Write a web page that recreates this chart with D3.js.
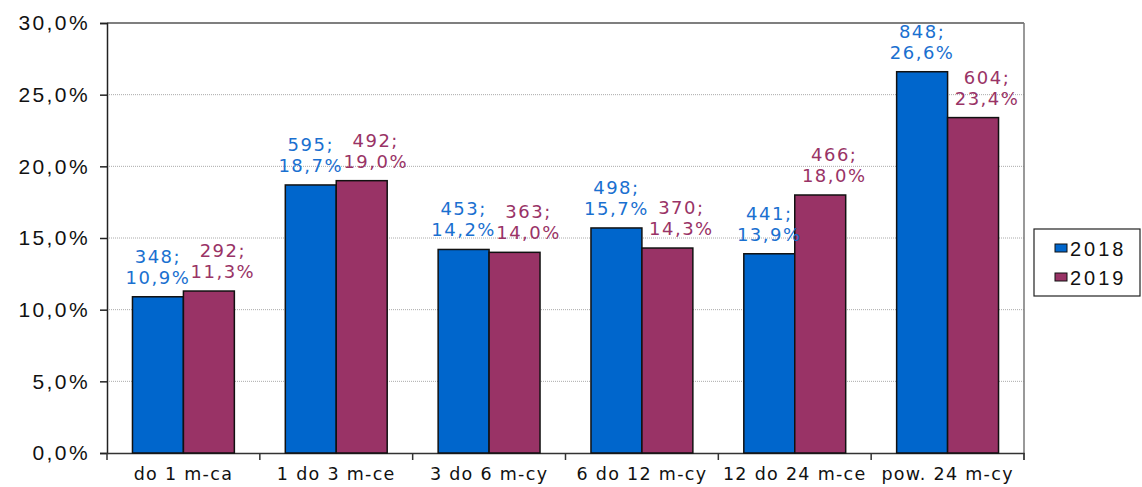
<!DOCTYPE html>
<html><head><meta charset="utf-8">
<script src="https://cdn.jsdelivr.net/npm/d3@7"></script>
<style>body{margin:0;background:#fff}</style>
</head><body>
<svg id="c" width="1142" height="487"></svg>
<script>
const categories = ["do 1 m-ca","1 do 3 m-ce","3 do 6 m-cy","6 do 12 m-cy","12 do 24 m-ce","pow. 24 m-cy"];
const series = ["2018","2019"];
const pct2018 = [10.9,18.7,14.2,15.7,13.9,26.6];
const pct2019 = [11.3,19.0,14.0,14.3,18.0,23.4];
const cnt2018 = [348,595,453,498,441,848];
const cnt2019 = [292,492,363,370,466,604];
const yTicks = [0,5,10,15,20,25,30];
const colors = ["#0066CC","#993366"];
const labelColors = ["#1a70d0","#993366"];

const svg = d3.select("#c");
const L=107,R=1024,T=23,B=453;
const x = d3.scaleBand().domain(categories).range([L,R]).paddingInner(0).paddingOuter(0);
const inner = d3.scaleBand().domain(series).range([0,x.bandwidth()]).paddingInner(0).paddingOuter(0.5);
const y = d3.scaleLinear().domain([0,30]).range([B,T]);
const fmt = v => d3.format(".1f")(v).replace(".",",");

// grid
svg.append("g").selectAll("line").data(yTicks.filter(t=>t>0&&t<30)).join("line")
  .attr("x1",L).attr("x2",R).attr("y1",d=>y(d)).attr("y2",d=>y(d))
  .attr("stroke","#aaa").attr("stroke-width",1).attr("stroke-dasharray","1,1");
// frame top/right
svg.append("line").attr("x1",L).attr("x2",R).attr("y1",T).attr("y2",T).attr("stroke","#555").attr("stroke-width",1.5);
svg.append("line").attr("x1",R).attr("x2",R).attr("y1",T).attr("y2",B+7).attr("stroke","#777").attr("stroke-width",1.5);

// y axis
const ya = svg.append("g").attr("transform",`translate(${L},0)`)
  .call(d3.axisLeft(y).tickValues(yTicks).tickSize(7).tickPadding(10).tickFormat(d=>fmt(d)+"%"));
ya.select(".domain").attr("stroke","#222").attr("stroke-width",1.5);
ya.selectAll(".tick line").attr("stroke","#222").attr("stroke-width",1.5);
ya.selectAll("text").attr("font-family","Liberation Sans, Arial, sans-serif").attr("font-size",21).attr("letter-spacing","2.4px").attr("fill","#111");

// x axis
const xa = svg.append("g").attr("transform",`translate(0,${B})`)
  .call(d3.axisBottom(x).tickSize(0).tickPadding(15));
xa.select(".domain").attr("stroke","#333").attr("stroke-width",1.5);
xa.selectAll("text").attr("font-family","DejaVu Sans, Verdana, sans-serif").attr("font-size",17.5).attr("letter-spacing","1.3px").attr("fill","#111");
const bounds = categories.map(c=>x(c)).concat([R]);
svg.append("g").selectAll("line").data(bounds).join("line")
  .attr("x1",d=>d).attr("x2",d=>d).attr("y1",B).attr("y2",B+7).attr("stroke","#333").attr("stroke-width",1.5);

// bars
const data = [];
categories.forEach((c,i)=>{
  data.push({c,s:"2018",v:pct2018[i],n:cnt2018[i],k:0});
  data.push({c,s:"2019",v:pct2019[i],n:cnt2019[i],k:1});
});
svg.append("g").selectAll("rect").data(data).join("rect")
  .attr("x",d=>x(d.c)+inner(d.s)).attr("width",inner.bandwidth())
  .attr("y",d=>y(d.v)).attr("height",d=>B-y(d.v))
  .attr("fill",d=>colors[d.k]).attr("stroke","#111").attr("stroke-width",1.5);

// labels
const lg = svg.append("g").attr("font-family","DejaVu Sans, Verdana, sans-serif").attr("font-size",18).attr("letter-spacing","1.5px").attr("text-anchor","middle");
data.forEach(d=>{
  const cx = x(d.c)+inner(d.s)+inner.bandwidth()/2 + (d.k===1?14:0);
  const yb = y(d.v)-13;
  lg.append("text").attr("x",cx).attr("y",yb-21).attr("fill",labelColors[d.k]).text(d.n+";");
  lg.append("text").attr("x",cx).attr("y",yb).attr("fill",labelColors[d.k]).text(fmt(d.v)+"%");
});

// legend
const leg = svg.append("g");
leg.append("rect").attr("x",1034).attr("y",229).attr("width",106).attr("height",67).attr("fill","#fff").attr("stroke","#222").attr("stroke-width",1.2);
series.forEach((s,i)=>{
  const yy = 256 + i*29;
  leg.append("rect").attr("x",1055).attr("y",yy-12).attr("width",12).attr("height",8).attr("fill",colors[i]).attr("stroke","#111").attr("stroke-width",1);
  leg.append("text").attr("x",1070).attr("y",yy).attr("font-family","Liberation Sans, Arial, sans-serif").attr("font-size",20).attr("letter-spacing","3px").attr("fill","#111").text(s);
});
</script>
</body></html>
